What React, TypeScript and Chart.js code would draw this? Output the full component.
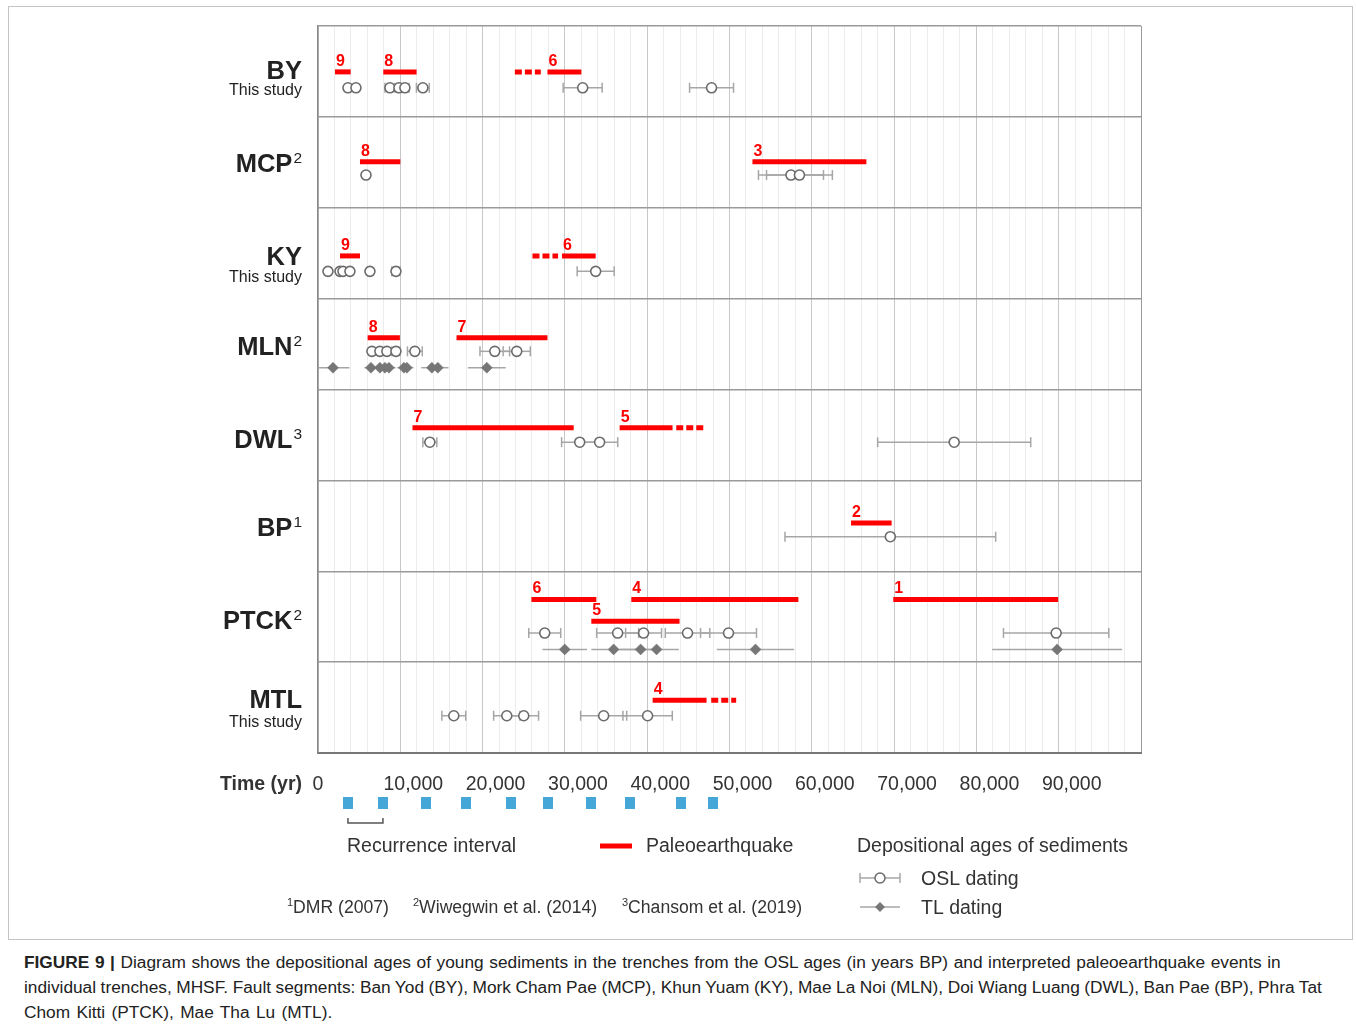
import React, { useEffect, useRef } from "react";
import { Chart, registerables } from "chart.js";
Chart.register(...registerables);

const FONT = '"Liberation Sans", Arial, Helvetica, sans-serif';
const RED = "#ff0000";

// ---- rows ----
const rowNames = ["BY", "MCP", "KY", "MLN", "DWL", "BP", "PTCK", "MTL"];
const rowRefs = ["", "2", "", "2", "3", "1", "2", ""];
const rowNotes = ["This study", "", "This study", "", "", "", "", "This study"];

// ---- paleoearthquake events ----
const eventRow = [0, 0, 0, 1, 1, 2, 2, 3, 3, 4, 4, 5, 6, 6, 6, 6, 7];
const eventLabel = ["9", "8", "6", "8", "3", "9", "6", "8", "7", "7", "5", "2", "6", "4", "1", "5", "4"];
const eventLane = [0, 0, 0, 0, 0, 0, 0, 0, 0, 0, 0, 0, 0, 0, 0, 1, 0];
const eventStart = [2060, 7930, 27880, 5100, 52790, 2670, 29650, 6030, 16830, 11480, 36650, 64770, 25930, 38070, 69900, 33210, 40660];
const eventEnd = [3970, 11980, 32000, 10000, 66630, 5100, 33740, 9950, 27880, 31070, 43080, 69700, 33820, 58370, 89930, 43930, 47210];
// uncertain (dashed) extension of each event, null when none
const eventDashFrom = [null, null, 23920, null, null, null, 26060, null, null, null, 43530, null, null, null, null, null, 47780];
const eventDashTo = [null, null, 27070, null, null, null, 29170, null, null, null, 46940, null, null, null, null, null, 50810];

// ---- OSL ages [age, ±error] ----
const oslBY = [[3640, 0], [4610, 0], [8740, 600], [9830, 0], [10560, 500], [12740, 780], [32160, 2370], [47820, 2670]];
const oslMCP = [[5830, 0], [57470, 3950], [58500, 4000]];
const oslKY = [[1210, 0], [2670, 0], [3030, 0], [3880, 0], [6310, 0], [9470, 500], [33740, 2250]];
const oslMLN = [[6550, 0], [7520, 0], [8370, 0], [9470, 500], [11770, 900], [21480, 1800], [24150, 1650]];
const oslDWL = [[13590, 850], [31800, 2200], [34220, 2200], [77300, 9300]];
const oslBP = [[69540, 12800]];
const oslPTCK = [[27550, 1940], [36410, 2550], [39560, 2180], [44900, 2700], [49880, 3400], [89690, 6400]];
const oslMTL = [[16500, 1450], [22940, 1600], [25000, 1800], [34710, 2800], [40050, 3000]];
const oslRows = [oslBY, oslMCP, oslKY, oslMLN, oslDWL, oslBP, oslPTCK, oslMTL];

// ---- TL ages [age, ±error] ----
const tlMLN = [[1820, 2000], [6430, 800], [7520, 800], [8130, 800], [8620, 800], [10440, 800], [10800, 800], [13840, 1300], [14560, 1300], [20510, 2300]];
const tlPTCK = [[29980, 2700], [35920, 2700], [39200, 2500], [41140, 2700], [53160, 4700], [89810, 7900]];
const tlRows = [[], [], [], tlMLN, [], [], tlPTCK, []];

// ---- recurrence interval marks ----
const recurrenceMarks = [3640, 7890, 13100, 17960, 23420, 27900, 33130, 37870, 44050, 47940];

// ---- axis ----
const xTickValues = [0, 10000, 20000, 30000, 40000, 50000, 60000, 70000, 80000, 90000];
const xTickLabels = ["0", "10,000", "20,000", "30,000", "40,000", "50,000", "60,000", "70,000", "80,000", "90,000"];

// ---- layout (fractions of a row) ----
const barOffset = [0.505, 0.495, 0.53, 0.43, 0.42, 0.47, 0.31, 0.42];
const lane2Offset = 0.55;
const oslOffset = [0.68, 0.64, 0.7, 0.58, 0.58, 0.62, 0.68, 0.59];
const tlOffset = [0, 0, 0, 0.76, 0, 0, 0.86, 0];
const nameBaseline = [53, 55, 57, 56, 58, 56, 58, 46];
const noteBaseline = [69, 0, 74, 0, 0, 0, 0, 65];

const textPlugin = {
  id: "texts",
  afterDraw(chart: any) {
    const { ctx, scales } = chart;
    const xs = scales.x;
    const ys = scales.y;
    ctx.save();
    // row labels
    rowNames.forEach((name, r) => {
      const top = ys.getPixelForValue(r);
      ctx.textAlign = "left";
      ctx.textBaseline = "alphabetic";
      ctx.fillStyle = "#222";
      ctx.font = `bold 25.5px ${FONT}`;
      const wName = ctx.measureText(name).width;
      ctx.font = `15.5px ${FONT}`;
      const wSup = rowRefs[r] ? ctx.measureText(rowRefs[r]).width + 1 : 0;
      const right = 302;
      const bx = right - wName - wSup;
      const by = top + nameBaseline[r];
      ctx.font = `bold 25.5px ${FONT}`;
      ctx.fillText(name, bx, by);
      if (rowRefs[r]) {
        ctx.font = `15.5px ${FONT}`;
        ctx.fillText(rowRefs[r], bx + wName + 1, by - 9);
      }
      if (rowNotes[r]) {
        ctx.font = `16px ${FONT}`;
        ctx.textAlign = "right";
        ctx.fillText(rowNotes[r], right, top + noteBaseline[r]);
      }
    });
    // event numbers
    ctx.font = `bold 16px ${FONT}`;
    ctx.fillStyle = RED;
    ctx.textAlign = "left";
    eventLabel.forEach((lab, i) => {
      const r = eventRow[i];
      const yv = r + (eventLane[i] ? lane2Offset : barOffset[r]);
      ctx.fillText(lab, xs.getPixelForValue(eventStart[i]) + 1, ys.getPixelForValue(yv) - 6);
    });
    // x tick labels
    ctx.fillStyle = "#333";
    ctx.font = `19.5px ${FONT}`;
    ctx.textAlign = "center";
    xTickValues.forEach((v, i) => {
      const px = xs.getPixelForValue(v) + (v === 0 ? 0 : 13);
      ctx.fillText(xTickLabels[i], px, 790);
    });
    ctx.font = `bold 19.5px ${FONT}`;
    ctx.textAlign = "right";
    ctx.fillText("Time (yr)", 302, 790);
    // recurrence marks
    ctx.fillStyle = "#45a7d8";
    recurrenceMarks.forEach((v) => {
      const px = xs.getPixelForValue(v);
      ctx.fillRect(Math.round(px - 5), 797, 10, 12);
    });
    // bracket
    const b0 = xs.getPixelForValue(recurrenceMarks[0]);
    const b1 = xs.getPixelForValue(recurrenceMarks[1]);
    ctx.strokeStyle = "#555";
    ctx.lineWidth = 1.5;
    ctx.beginPath();
    ctx.moveTo(b0, 818);
    ctx.lineTo(b0, 823);
    ctx.lineTo(b1, 823);
    ctx.lineTo(b1, 818);
    ctx.stroke();
    // legend
    ctx.fillStyle = "#333";
    ctx.font = `19.5px ${FONT}`;
    ctx.textAlign = "left";
    ctx.fillText("Recurrence interval", 347, 852);
    ctx.fillText("Paleoearthquake", 646, 852);
    ctx.fillText("Depositional ages of sediments", 857, 852);
    ctx.fillText("OSL dating", 921, 885);
    ctx.fillText("TL dating", 921, 914);
    ctx.strokeStyle = RED;
    ctx.lineWidth = 5;
    ctx.beginPath();
    ctx.moveTo(600, 846);
    ctx.lineTo(632, 846);
    ctx.stroke();
    // OSL icon
    ctx.strokeStyle = "#a6a6a6";
    ctx.lineWidth = 1.5;
    ctx.beginPath();
    ctx.moveTo(860, 878);
    ctx.lineTo(900, 878);
    ctx.moveTo(860, 873);
    ctx.lineTo(860, 883);
    ctx.moveTo(900, 873);
    ctx.lineTo(900, 883);
    ctx.stroke();
    ctx.beginPath();
    ctx.arc(880, 878, 5, 0, Math.PI * 2);
    ctx.fillStyle = "#fff";
    ctx.fill();
    ctx.strokeStyle = "#6b6b6b";
    ctx.stroke();
    // TL icon
    ctx.strokeStyle = "#a6a6a6";
    ctx.beginPath();
    ctx.moveTo(860, 907);
    ctx.lineTo(900, 907);
    ctx.stroke();
    ctx.fillStyle = "#777";
    ctx.beginPath();
    ctx.moveTo(880, 902);
    ctx.lineTo(885, 907);
    ctx.lineTo(880, 912);
    ctx.lineTo(875, 907);
    ctx.closePath();
    ctx.fill();
    // footnotes
    ctx.fillStyle = "#333";
    const notes = [["1", "DMR (2007)", 287], ["2", "Wiwegwin et al. (2014)", 413], ["3", "Chansom et al. (2019)", 622]];
    notes.forEach(([s, t, x]: any) => {
      ctx.font = `11px ${FONT}`;
      ctx.fillText(s, x, 906);
      const w = ctx.measureText(s).width;
      ctx.font = `17.6px ${FONT}`;
      ctx.fillText(t, x + w, 913);
    });
    ctx.restore();
  },
};

export default function App() {
  const ref = useRef<HTMLCanvasElement | null>(null);
  useEffect(() => {
    if (!ref.current) return;
    const datasets: any[] = [];
    // OSL circles (top)
    oslRows.forEach((pts, r) => {
      const y = r + oslOffset[r];
      datasets.push({
        data: pts.map((p) => ({ x: p[0], y })),
        showLine: false,
        pointStyle: "circle",
        pointRadius: 5,
        pointBackgroundColor: "#ffffff",
        pointBorderColor: "#6b6b6b",
        pointBorderWidth: 1.6,
        order: 0,
      });
      pts.forEach((p) => {
        if (p[1] > 0) {
          datasets.push({
            data: [{ x: p[0] - p[1], y }, { x: p[0] + p[1], y }],
            showLine: true,
            borderColor: "#a6a6a6",
            borderWidth: 1.5,
            pointStyle: "line",
            pointRotation: 90,
            pointRadius: 5,
            pointBorderColor: "#a6a6a6",
            pointBorderWidth: 1.5,
            order: 2,
          });
        }
      });
    });
    // TL diamonds
    tlRows.forEach((pts, r) => {
      if (!pts.length) return;
      const y = r + tlOffset[r];
      datasets.push({
        data: pts.map((p) => ({ x: p[0], y })),
        showLine: false,
        pointStyle: "rectRot",
        pointRadius: 5.5,
        pointBackgroundColor: "#767676",
        pointBorderColor: "#767676",
        pointBorderWidth: 0.5,
        order: 1,
      });
      pts.forEach((p) => {
        datasets.push({
          data: [{ x: p[0] - p[1], y }, { x: p[0] + p[1], y }],
          showLine: true,
          borderColor: "#a6a6a6",
          borderWidth: 1.5,
          pointRadius: 0,
          order: 2,
        });
      });
    });
    // paleoearthquake bars
    eventRow.forEach((r, i) => {
      const y = r + (eventLane[i] ? lane2Offset : barOffset[r]);
      datasets.push({
        data: [{ x: eventStart[i], y }, { x: eventEnd[i], y }],
        showLine: true,
        borderColor: RED,
        borderWidth: 5,
        borderCapStyle: "butt",
        pointRadius: 0,
        order: 3,
      });
      if (eventDashFrom[i] != null) {
        datasets.push({
          data: [{ x: eventDashFrom[i], y }, { x: eventDashTo[i], y }],
          showLine: true,
          borderColor: RED,
          borderWidth: 5,
          borderDash: [7, 3],
          borderCapStyle: "butt",
          pointRadius: 0,
          order: 3,
        });
      }
    });

    const chart = new Chart(ref.current, {
      type: "scatter",
      data: { datasets },
      options: {
        animation: false,
        responsive: false,
        events: [],
        layout: { padding: { left: 318, top: 26, right: 215, bottom: 187 } },
        plugins: { legend: { display: false }, tooltip: { enabled: false } },
        scales: {
          x: {
            type: "linear",
            min: 0,
            max: 100000,
            ticks: { stepSize: 2000, display: false },
            grid: {
              drawTicks: false,
              color: (c: any) => {
                const v = c.tick ? c.tick.value : 0;
                if (v === 100000) return "#9a9a9a";
                return v % 10000 === 0 ? "#c8c8c8" : "#ececec";
              },
              lineWidth: 1,
            },
            border: { display: true, color: "#777", width: 2 },
          },
          y: {
            type: "linear",
            min: 0,
            max: 8,
            reverse: true,
            ticks: { stepSize: 1, display: false },
            grid: { drawTicks: false, color: "#9a9a9a", lineWidth: 1.5 },
            border: { display: true, color: "#888", width: 1.5 },
          },
        },
      },
      plugins: [textPlugin],
    });
    return () => chart.destroy();
  }, []);

  return (
    <div style={{ position: "absolute", left: 0, top: 0, width: 1356, height: 1031, overflow: "hidden", background: "#fff" }}>
      <div style={{ position: "absolute", left: 8, top: 6, width: 1343, height: 932, border: "1px solid #c4c4c4" }} />
      <canvas ref={ref} width={1356} height={940} style={{ position: "absolute", left: 0, top: 0, width: 1356, height: 940 }} />
      <div
        style={{
          position: "absolute",
          left: 24,
          top: 950,
          width: 1320,
          font: `17.3px ${FONT}`,
          lineHeight: "25px",
          color: "#222",
          whiteSpace: "nowrap",
        }}
      >
        <span style={{ wordSpacing: "0.8px" }}>
          <b>FIGURE 9 |</b> Diagram shows the depositional ages of young sediments in the trenches from the OSL ages (in years BP) and interpreted paleoearthquake events in
        </span>
        <br />
        <span style={{ wordSpacing: "-0.25px" }}>
          individual trenches, MHSF. Fault segments: Ban Yod (BY), Mork Cham Pae (MCP), Khun Yuam (KY), Mae La Noi (MLN), Doi Wiang Luang (DWL), Ban Pae (BP), Phra Tat
        </span>
        <br />
        <span style={{ wordSpacing: "1.5px" }}>Chom Kitti (PTCK), Mae Tha Lu (MTL).</span>
      </div>
    </div>
  );
}
